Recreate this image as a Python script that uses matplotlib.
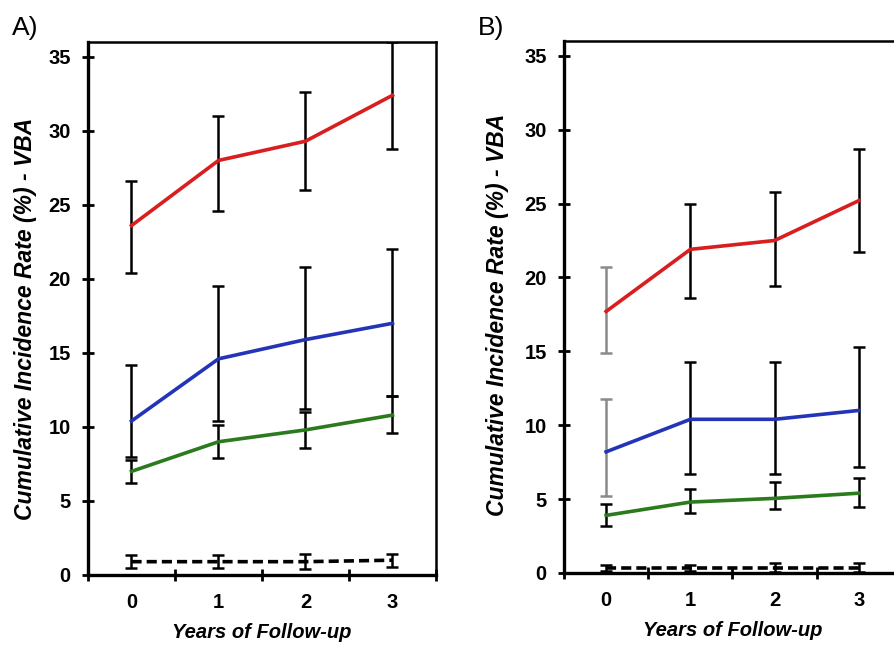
import matplotlib
matplotlib.use('Agg')
import matplotlib.pyplot as plt
import numpy as np

plt.rcParams['font.family'] = ['Liberation Sans', 'DejaVu Sans']

years = [0, 1, 2, 3]
year_labels = ['0', '1', '2', '3']

# panel A
a_red = [23.6, 28.0, 29.3, 32.4]
a_red_lo = [3.2, 3.4, 3.3, 3.6]
a_red_hi = [3.0, 3.0, 3.3, 3.6]
a_blue = [10.4, 14.6, 15.9, 17.0]
a_blue_lo = [2.4, 4.2, 4.7, 4.9]
a_blue_hi = [3.8, 4.9, 4.9, 5.0]
a_green = [7.0, 9.0, 9.8, 10.8]
a_green_lo = [0.8, 1.1, 1.2, 1.2]
a_green_hi = [0.8, 1.1, 1.2, 1.3]
a_dash = [0.9, 0.9, 0.9, 1.0]
a_dash_err = [0.45, 0.45, 0.5, 0.45]

# panel B
b_red = [17.7, 21.9, 22.5, 25.2]
b_red_lo = [2.8, 3.3, 3.1, 3.5]
b_red_hi = [3.0, 3.1, 3.3, 3.5]
b_blue = [8.2, 10.4, 10.4, 11.0]
b_blue_lo = [3.0, 3.7, 3.7, 3.8]
b_blue_hi = [3.6, 3.9, 3.9, 4.3]
b_green = [3.9, 4.8, 5.05, 5.4]
b_green_lo = [0.75, 0.75, 0.75, 0.95]
b_green_hi = [0.8, 0.9, 1.1, 1.0]
b_dash = [0.35, 0.35, 0.35, 0.35]
b_dash_err = [0.2, 0.2, 0.3, 0.3]

red = '#d81e1e'
blue = '#2434b8'
green = '#2b7a1e'


def draw_panel(ax, series, first_grey=False, ylab_x=-0.16, ylab_y=0.48):
    for vals, lo, hi, col, ls in series:
        ax.plot(years, vals, color=col, lw=2.6, ls=ls, zorder=3,
                dashes=(2.8, 1.4) if ls == '--' else (None, None))
        for i, x in enumerate(years):
            ecol = '#8a8a8a' if (first_grey and i == 0 and col in (red, blue)) else 'black'
            ax.errorbar([x], [vals[i]], yerr=[[lo[i]], [hi[i]]], fmt='none',
                        ecolor=ecol, elinewidth=1.8, capsize=4, capthick=1.8, zorder=2)
    ax.set_xlim(-0.5, 3.5)
    ax.set_ylim(0, 36)
    ax.set_yticks(np.arange(0, 36, 5))
    ax.set_yticklabels([str(v) for v in range(0, 36, 5)], fontweight='bold', fontsize=14.5)
    ax.set_xticks([-0.5, 0.5, 1.5, 2.5, 3.5])
    ax.set_xticklabels([])
    ax.set_xticks(years, minor=True)
    ax.set_xticklabels(year_labels, minor=True, fontweight='bold', fontsize=14.5)
    ax.tick_params(axis='both', which='major', direction='inout', length=9, width=2, pad=8)
    ax.tick_params(axis='x', which='minor', length=0, pad=13)
    for s in ax.spines.values():
        s.set_linewidth(1.8)
    ax.spines['left'].set_linewidth(2.4)
    ax.spines['bottom'].set_linewidth(2.4)
    ax.set_xlabel('Years of Follow-up', fontweight='bold', fontstyle='italic', fontsize=14.5, labelpad=8)
    ax.set_ylabel('Cumulative Incidence Rate (%) - VBA', fontweight='bold', fontstyle='italic',
                  fontsize=16.5)
    ax.yaxis.set_label_coords(ylab_x, ylab_y)


fig = plt.figure(figsize=(8.95, 6.46), dpi=100)
ax1 = fig.add_axes([88 / 895, 71 / 646, 348 / 895, 533 / 646])
ax2 = fig.add_axes([564 / 895, 73 / 646, 337 / 895, 532 / 646])

draw_panel(ax1, [
    (a_red, a_red_lo, a_red_hi, red, '-'),
    (a_blue, a_blue_lo, a_blue_hi, blue, '-'),
    (a_green, a_green_lo, a_green_hi, green, '-'),
    (a_dash, a_dash_err, a_dash_err, 'black', '--'),
], ylab_x=-0.146, ylab_y=0.48)
draw_panel(ax2, [
    (b_red, b_red_lo, b_red_hi, red, '-'),
    (b_blue, b_blue_lo, b_blue_hi, blue, '-'),
    (b_green, b_green_lo, b_green_hi, green, '-'),
    (b_dash, b_dash_err, b_dash_err, 'black', '--'),
], first_grey=True, ylab_x=-0.163, ylab_y=0.485)

fig.text(12 / 895, 1 - 35 / 646, 'A)', fontsize=19)
fig.text(478 / 895, 1 - 35 / 646, 'B)', fontsize=19)

fig.savefig('out.png', dpi=100)
